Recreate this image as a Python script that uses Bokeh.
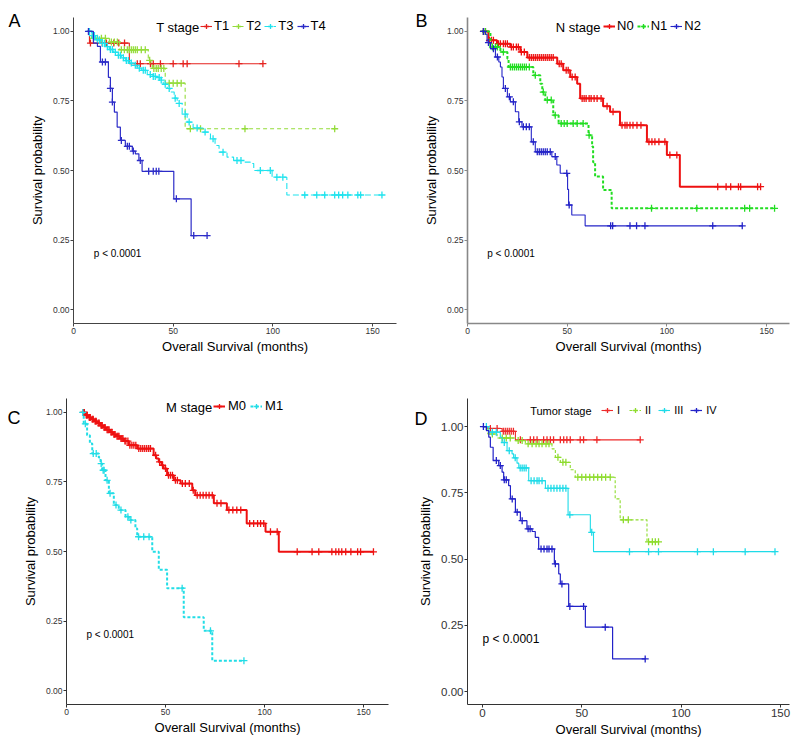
import numpy as np
from bokeh.plotting import figure
from bokeh.layouts import row, column
from bokeh.models import (Range1d, FixedTicker, NumeralTickFormatter, Legend, LegendItem, Label,
                          LinearAxis, CustomJSTickFormatter)
from bokeh.embed import file_html
from bokeh.resources import INLINE

FONT = "Liberation Sans"

# ---------------- data ----------------
x_ticks = [0, 50, 100, 150]
y_ticks = [0.0, 0.25, 0.5, 0.75, 1.0]
x_title = "Overall Survival (months)"
y_title = "Survival probability"
p_text = "p < 0.0001"

# Panel A: T stage
A_labels = ["T1", "T2", "T3", "T4"]
A_T1_t = [7, 8, 28, 95]
A_T1_s = [1.0, 0.958, 0.884, 0.884]
A_T1_c = [8.5, 14.4, 16.5, 20.2, 22.7, 25.6, 32, 33.5, 38.6, 40, 43.6, 50, 55, 57, 83, 95]
A_T2_t = [7, 9, 18, 23, 37.5, 38.8, 39.5, 46, 56, 131]
A_T2_s = [1.0, 0.975, 0.962, 0.934, 0.896, 0.889, 0.867, 0.814, 0.65, 0.65]
A_T2_c = [10, 12, 14, 16, 19, 20.5, 22, 24, 25.5, 27, 28, 29, 30, 31, 32, 34, 36, 38.2, 40.3,
          41.5, 42.5, 44, 45.3, 48, 50, 52, 54, 58.6, 63.7, 86, 131]
A_T3_t = [7, 9, 11, 13.5, 16, 18, 20, 22, 24, 26, 28, 30, 32, 34, 37, 40, 42, 44, 45, 47, 48.6,
          50.5, 52, 54.5, 57, 60, 65, 68.7, 71, 73, 77, 80.3, 85, 88.7, 90.4, 99.6, 107, 155]
A_T3_s = [1.0, 0.985, 0.97, 0.957, 0.945, 0.935, 0.925, 0.914, 0.905, 0.895, 0.886, 0.878, 0.868,
          0.86, 0.845, 0.838, 0.834, 0.825, 0.81, 0.795, 0.782, 0.76, 0.741, 0.703, 0.674, 0.653,
          0.638, 0.614, 0.59, 0.566, 0.548, 0.536, 0.53, 0.525, 0.5, 0.476, 0.412, 0.412]
A_T3_c = [8, 9.5, 10.5, 12, 13, 14.5, 15.5, 17, 18.5, 19.5, 21, 22.5, 23.5, 25, 26.5, 27.5, 29, 31,
          33, 35, 36, 38.5, 40, 41, 43, 44, 46, 48, 51, 53, 56, 58, 62, 66, 70, 75, 82, 84, 93.7,
          98.7, 102, 105, 116, 122, 126, 131, 133, 135, 137.6, 142.6, 144, 154.7]
A_T4_t = [7, 10, 12, 13.5, 17.5, 18.5, 19.5, 20.5, 21.9, 23.5, 26, 29.5, 31, 32.8, 34.4, 50.3, 59, 67]
A_T4_s = [1.0, 0.958, 0.946, 0.89, 0.835, 0.795, 0.746, 0.71, 0.656, 0.608, 0.587, 0.57, 0.56,
          0.536, 0.497, 0.398, 0.266, 0.266]
A_T4_c = [7.5, 14.5, 16, 18.5, 19.5, 24, 27, 28, 30, 33.5, 37.7, 40, 41.5, 42.8, 51.6, 60.3, 67]

# Panel B: N stage
B_labels = ["N0", "N1", "N2"]
B_N0_t = [7.3, 10.5, 14.8, 21.5, 26.5, 30, 45, 48, 51.5, 55, 56.5, 68, 71.5, 76.5, 90, 100, 106.5, 147]
B_N0_s = [1.0, 0.968, 0.956, 0.944, 0.926, 0.906, 0.884, 0.86, 0.836, 0.812, 0.759, 0.731, 0.711,
          0.663, 0.603, 0.556, 0.442, 0.442]
B_N0_c = [8, 9, 11, 12, 13, 15.5, 16.5, 18, 19, 20, 22, 23, 24.5, 25.5, 27, 28.5, 31, 32, 33, 34, 35,
          36, 37, 38, 39, 40, 41, 42, 43, 46, 47, 49.5, 50.5, 52.5, 54, 57.5, 58.5, 59.5, 61, 62,
          63.5, 65, 67, 70, 73, 77.5, 79, 80, 81.5, 83, 85, 87, 91, 92.5, 94, 96, 99, 101.5, 105,
          125.5, 129.7, 132, 135.9, 137, 145.5, 147]
B_N1_t = [7.3, 11.5, 16.5, 20, 20.6, 33, 36.5, 37.5, 39, 43, 45.7, 60.7, 62.5, 63.0, 64, 68, 72.3, 154]
B_N1_s = [1.0, 0.944, 0.926, 0.902, 0.872, 0.842, 0.812, 0.782, 0.753, 0.699, 0.669, 0.627, 0.586,
          0.53, 0.478, 0.43, 0.364, 0.364]
B_N1_c = [8, 9, 12.5, 14, 15, 18, 21.5, 22.5, 23.5, 24.5, 25.5, 26.5, 27.5, 28.5, 29.5, 31, 34, 38,
          40, 42, 44, 47, 48.5, 50, 53, 55, 58, 61, 92.3, 115, 139, 141.5, 154]
B_N2_t = [7, 9, 9.8, 11.5, 14, 15.7, 16.5, 17.3, 18, 20, 21.5, 24, 25.7, 27.3, 32, 34, 42.3, 44.8,
          46.5, 50.2, 50.7, 52.3, 59, 138]
B_N2_s = [1.0, 0.99, 0.96, 0.938, 0.908, 0.89, 0.872, 0.836, 0.795, 0.765, 0.747, 0.711, 0.675, 0.657,
          0.603, 0.567, 0.55, 0.52, 0.49, 0.432, 0.376, 0.34, 0.301, 0.301]
B_N2_c = [8, 10.5, 13, 15, 19, 21, 23, 26, 28, 29.5, 31, 33, 35, 36, 37, 38, 39, 40, 41.5, 44, 49.8,
          51, 71.8, 72.8, 81.5, 84.8, 89, 123, 137.8]

# Panel C: M stage
C_labels = ["M0", "M1"]
C_M0_t = [7.9, 9.5, 11, 12.5, 14, 15.5, 17, 18.5, 20, 22, 23.5, 25, 27, 29, 31.5, 35.7, 44, 45.3,
          46.6, 48, 49, 50.8, 54.2, 57.6, 63.5, 65, 74.4, 81, 91, 100.5, 107.2, 155]
C_M0_s = [1.0, 0.99, 0.982, 0.975, 0.968, 0.962, 0.953, 0.946, 0.938, 0.929, 0.921, 0.914, 0.906,
          0.897, 0.882, 0.87, 0.846, 0.834, 0.822, 0.81, 0.798, 0.774, 0.756, 0.744, 0.72, 0.702,
          0.673, 0.649, 0.601, 0.571, 0.499, 0.499]
C_M0_c = [8.5, 9, 10, 10.5, 11.5, 12, 13, 13.5, 14.5, 15, 16, 16.5, 17.5, 18, 19, 19.5, 20.5, 21,
          21.5, 22.5, 23, 24, 24.5, 25.5, 26, 26.5, 27.5, 28, 28.5, 29.5, 30, 31, 32, 33, 34, 35,
          36.5, 37.5, 38.5, 39.5, 40.5, 41.5, 42.4, 45, 47, 48.5, 50, 51.5, 52.5, 53.5, 55, 56,
          58.5, 60, 62, 64, 66, 67.5, 69, 70.5, 72, 73.6, 76, 78, 82, 84, 86, 88, 92.5, 94.5, 96.5,
          98, 99.6, 103, 106.4, 116.5, 124, 127.4, 134, 136, 137.5, 139, 141, 143.6, 147, 148.5, 155]
C_M1_t = [7.9, 8.7, 10.4, 11.8, 13, 16.3, 17.2, 18, 19.7, 21.4, 23.9, 26.4, 29.8, 31.5, 34.8, 35.7,
          43.3, 46.6, 50.8, 59.2, 69.3, 73.6, 89.6]
C_M1_s = [1.0, 0.959, 0.918, 0.888, 0.852, 0.838, 0.816, 0.792, 0.756, 0.709, 0.667, 0.649, 0.625,
          0.613, 0.583, 0.553, 0.499, 0.434, 0.368, 0.264, 0.215, 0.1075, 0.1075]
C_M1_c = [8.2, 9.5, 13.5, 15, 17.5, 18.5, 19, 20.5, 22, 25, 27.5, 31, 32.5, 36.4, 39, 41.7, 58.4,
          72.7, 89.6]

# Panel D: Tumor stage
D_labels = ["I", "II", "III", "IV"]
D_I_t = [0.7, 2.4, 9.9, 16.6, 79.4]
D_I_s = [1.0, 0.993, 0.982, 0.95, 0.95]
D_I_c = [4, 7.4, 10.5, 11.5, 12.5, 13.5, 14.5, 15.6, 19.1, 24.1, 25.8, 27.5, 30.8, 32.5, 34.2,
         35.8, 39.2, 40.9, 42.5, 44.2, 49.2, 50.9, 57.6, 79.4]
D_II_t = [0.7, 2.7, 7.4, 16.6, 21.6, 35, 36.7, 39.2, 44.2, 46.7, 66.8, 69.3, 82.8, 88.6]
D_II_s = [1.0, 0.972, 0.957, 0.947, 0.935, 0.916, 0.884, 0.865, 0.837, 0.809, 0.727, 0.648, 0.565, 0.565]
D_II_c = [5, 10, 12, 14, 18, 20, 23, 25, 27, 28.5, 30, 32, 33.5, 38, 40.5, 42, 48, 50, 52, 54, 56,
          58, 60, 62, 64.3, 70.9, 73.4, 83.6, 85.5, 87, 88.6]
D_III_t = [0.7, 3.2, 9, 9.9, 12.4, 14.9, 15.7, 17.4, 18.3, 23.3, 31.7, 43.1, 54.3, 55.9, 147.2]
D_III_s = [1.0, 0.979, 0.96, 0.94, 0.909, 0.897, 0.882, 0.862, 0.844, 0.796, 0.767, 0.667, 0.601,
           0.528, 0.528]
D_III_c = [2, 5, 7, 11, 13.5, 16.5, 19, 20, 21, 22, 24.5, 26, 27.5, 28.5, 30, 33, 34.5, 36, 37.5,
           39, 40.5, 42, 44, 55, 74, 83.6, 88.6, 108.2, 116.2, 132.2, 147.2]
D_IV_t = [0, 2, 3.2, 4, 5.4, 8.2, 9.9, 10.7, 13.2, 14.1, 16.6, 19.1, 22.4, 25, 26.6, 28.3, 36.2,
          38.4, 39.2, 43.4, 51.8, 65.5, 81.9]
D_IV_s = [1.0, 0.985, 0.96, 0.922, 0.872, 0.853, 0.828, 0.799, 0.777, 0.727, 0.677, 0.645, 0.614,
          0.604, 0.582, 0.538, 0.482, 0.444, 0.406, 0.321, 0.243, 0.123, 0.123]
D_IV_c = [0.5, 7, 9, 11, 12, 15, 17.5, 20, 23, 24, 29.5, 31, 32.5, 33.5, 35, 36.7, 40, 44, 50.9,
          61.8, 81.9]


# ---------------- helpers ----------------
def censor_y(t, s, c):
    idx = np.searchsorted(np.asarray(t, dtype=float), np.asarray(c, dtype=float), side="right") - 1
    idx = np.clip(idx, 0, len(s) - 1)
    return [s[i] for i in idx]


def make_fig(width, height, xr, yr, borders, axis_color, axis_lw, tick_fs, title_fs,
             y_standoff=5, x_standoff=2):
    left, right, top, bottom = borders
    p = figure(width=width, height=height, x_range=Range1d(*xr), y_range=Range1d(*yr),
               output_backend="svg", toolbar_location=None,
               min_border_left=left, min_border_right=right,
               min_border_top=top, min_border_bottom=bottom)
    p.xgrid.visible = False
    p.ygrid.visible = False
    p.outline_line_color = None
    p.xaxis.ticker = FixedTicker(ticks=x_ticks)
    p.yaxis.ticker = FixedTicker(ticks=y_ticks)
    p.yaxis.formatter = NumeralTickFormatter(format="0.00")
    for ax in (p.xaxis[0], p.yaxis[0]):
        ax.axis_line_color = axis_color
        ax.axis_line_width = axis_lw
        ax.major_tick_line_color = axis_color
        ax.major_tick_line_width = 1
        ax.major_tick_in = 0
        ax.major_tick_out = 3
        ax.minor_tick_line_color = None
        ax.major_label_text_font = FONT
        ax.major_label_text_font_size = tick_fs
        ax.major_label_text_color = "#333333"
        ax.major_label_standoff = 1
        ax.axis_label_text_font = FONT
        ax.axis_label_text_font_style = "normal"
        ax.axis_label_text_font_size = title_fs
        ax.axis_label_text_color = "black"
    p.xaxis.axis_label = x_title
    p.yaxis.axis_label = y_title
    p.yaxis.axis_label_standoff = y_standoff
    p.xaxis.axis_label_standoff = x_standoff
    return p


def add_curve(p, t, s, c, color, lw, dash="solid", msize=7, mlw=1.3):
    r1 = p.step(t, s, mode="after", line_color=color, line_width=lw, line_dash=dash)
    r2 = p.scatter(c, censor_y(t, s, c), marker="cross", size=msize,
                   line_color=color, line_width=mlw)
    return [r1, r2]


def add_legend(p, labels, renderer_sets, loc, fs, spacing, standoff, title, title_xy,
               glyph_w=12):
    items = [LegendItem(label=lab, renderers=rs) for lab, rs in zip(labels, renderer_sets)]
    leg = Legend(items=items, orientation="horizontal", location=loc, padding=0, margin=0,
                 spacing=spacing, label_standoff=standoff, glyph_width=glyph_w, glyph_height=12,
                 label_height=12, label_width=5, label_text_font=FONT, label_text_font_size=fs,
                 label_text_color="black", background_fill_alpha=0, border_line_alpha=0)
    p.add_layout(leg)
    p.add_layout(Label(x=title_xy[0], y=title_xy[1], x_units="screen", y_units="screen",
                       text=title, text_align="right", text_baseline="middle",
                       text_font=FONT, text_font_size=fs, text_color="black"))


def add_letter(p, letter, y_at, standoff):
    # panel letter drawn as the only tick label of an extra, line-less left axis
    ax = LinearAxis(ticker=FixedTicker(ticks=[y_at]),
                    formatter=CustomJSTickFormatter(code="return '%s'" % letter),
                    axis_line_color=None, major_tick_line_color=None, minor_tick_line_color=None,
                    major_tick_in=0, major_tick_out=0, major_label_standoff=standoff,
                    major_label_text_font=FONT, major_label_text_font_size="18px",
                    major_label_text_color="black")
    p.add_layout(ax, "left")


def add_pval(p, x, y, fs):
    p.add_layout(Label(x=x, y=y, text=p_text, text_align="left", text_baseline="middle",
                       text_font=FONT, text_font_size=fs, text_color="black"))


# ---------------- Panel A ----------------
pA = make_fig(400, 372, (0, 162), (-0.05, 1.05), (73, 4, 17, 49), "#444444", 1, "8.5px", "13px")
rA = [
    add_curve(pA, A_T1_t, A_T1_s, A_T1_c, "#e5231f", 1.1),
    add_curve(pA, A_T2_t, A_T2_s, A_T2_c, "#94dc3a", 1.1, "4 3"),
    add_curve(pA, A_T3_t, A_T3_s, A_T3_c, "#1fe3ee", 1.1, "6 3"),
    add_curve(pA, A_T4_t, A_T4_s, A_T4_c, "#2c2cc8", 1.2),
]
add_legend(pA, A_labels, rA, (127, 290), "13px", 3, 2, "T stage", (126, 296.3))
add_letter(pA, "A", 1.038, 6)
add_pval(pA, 10.2, 0.2, "10px")

# ---------------- Panel B ----------------
pB = make_fig(400, 372, (0, 161.5), (-0.05, 1.05), (67, 11, 17, 49), "#888888", 1.6, "8.5px", "13px")
rB = [
    add_curve(pB, B_N0_t, B_N0_s, B_N0_c, "#ee1111", 2),
    add_curve(pB, B_N1_t, B_N1_s, B_N1_c, "#22dd22", 2, "3 2"),
    add_curve(pB, B_N2_t, B_N2_s, B_N2_c, "#2424c8", 1.1),
]
add_legend(pB, B_labels, rB, (136, 290), "13px", 3, 2, "N stage", (133, 296.3))
add_letter(pB, "B", 1.038, -7)
add_pval(pB, 9.9, 0.2, "10px")

# ---------------- Panel C ----------------
pC = make_fig(400, 372, (0, 162.6), (-0.05, 1.05), (66, 12, 26, 40), "#333333", 1, "8.5px", "13px")
rC = [
    add_curve(pC, C_M0_t, C_M0_s, C_M0_c, "#ee1111", 2),
    add_curve(pC, C_M1_t, C_M1_s, C_M1_c, "#22dde6", 2, "3 2"),
]
add_legend(pC, C_labels, rC, (147, 291), "13px", 4, 3, "M stage", (145.7, 297.3))
add_letter(pC, "C", 0.98, -1)
add_pval(pC, 10.1, 0.2, "10px")

# ---------------- Panel D ----------------
pD = make_fig(400, 372, (-7.5, 154.5), (-0.049, 1.106), (67, 11, 26, 40), "#333333", 1, "11.5px",
              "13px")
rD = [
    add_curve(pD, D_I_t, D_I_s, D_I_c, "#ee2a2a", 1.1),
    add_curve(pD, D_II_t, D_II_s, D_II_c, "#8edc2e", 1.1, "3 2"),
    add_curve(pD, D_III_t, D_III_s, D_III_c, "#1fdbe8", 1.1),
    add_curve(pD, D_IV_t, D_IV_s, D_IV_c, "#2222c8", 1.2),
]
add_legend(pD, D_labels, rD, (134, 288), "11px", 7, 4, "Tumor stage", (124, 294))
add_letter(pD, "D", 1.03, -12)
add_pval(pD, 0, 0.2, "12px")

layout = column(row(pA, pB), row(pC, pD))
open("out.html", "w").write(file_html(layout, INLINE))
